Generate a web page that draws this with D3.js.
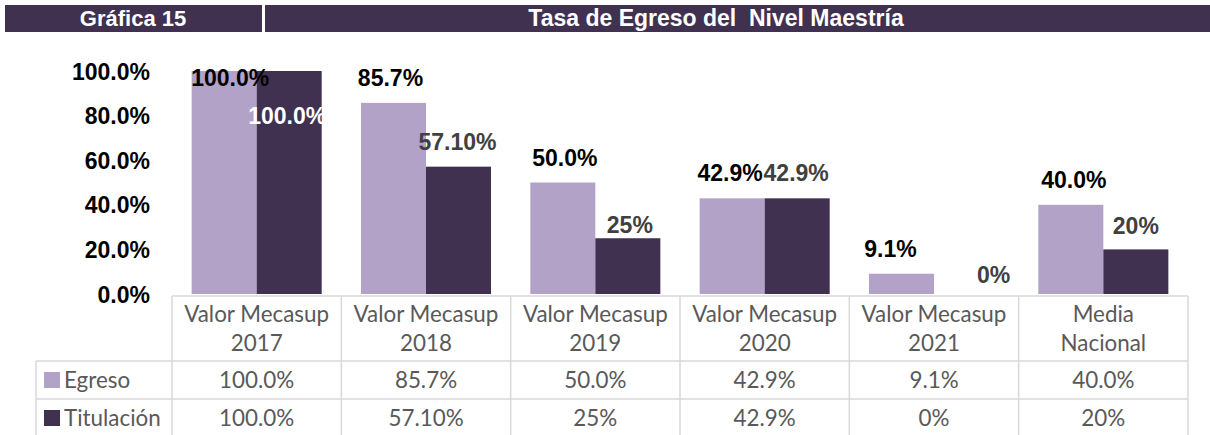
<!DOCTYPE html>
<html>
<head>
<meta charset="utf-8">
<script src="https://cdn.jsdelivr.net/npm/d3@7"></script>
<style>
  html, body { margin: 0; padding: 0; background: #fff; }
  svg { display: block; }
</style>
</head>
<body>
<svg id="chart" width="1210" height="435"></svg>
<script>
// ---- data ----
const categories = ["Valor Mecasup 2017", "Valor Mecasup 2018", "Valor Mecasup 2019", "Valor Mecasup 2020", "Valor Mecasup 2021", "Media Nacional"];
const categoryLines = [["Valor Mecasup", "2017"], ["Valor Mecasup", "2018"], ["Valor Mecasup", "2019"], ["Valor Mecasup", "2020"], ["Valor Mecasup", "2021"], ["Media", "Nacional"]];
const seriesNames = ["Egreso", "Titulación"];
const egreso = [100, 85.7, 50, 42.9, 9.1, 40];
const titulacion = [100, 57.1, 25, 42.9, 0, 20];
const egresoLabels = ["100.0%", "85.7%", "50.0%", "42.9%", "9.1%", "40.0%"];
const titulacionLabels = ["100.0%", "57.10%", "25%", "42.9%", "0%", "20%"];
const yTicks = [0, 20, 40, 60, 80, 100];
const yTickLabels = ["0.0%", "20.0%", "40.0%", "60.0%", "80.0%", "100.0%"];
const headerLeft = "Gráfica 15";
const headerTitle = "Tasa de Egreso del\u00A0\u00A0Nivel Maestría";

// ---- styling / layout (not data) ----
const colors = { "Egreso": "#b3a2c7", "Titulación": "#403151" };
const labelColors = { "Egreso": "#000000", "Titulación": "#404040" };
// manual label nudges (dx, dy) as placed in the original
const labelNudge = {
  "Egreso": [[6, 32], [-3, 0], [2, 0], [-2, 0], [-11, 0], [3, 0]],
  "Titulación": [[-2, 70], [-1, 0], [2, 12], [-1, 0], [27, 6], [0, 2]]
};
const labelWhite = { "Titulación": [true, false, false, false, false, false], "Egreso": [false, false, false, false, false, false] };

const svg = d3.select("#chart");
const boldFont = "'Liberation Sans', Arial, sans-serif";
const tableFont = "Lato, 'Open Sans', sans-serif";
const tableSize = 22.4;

// header
svg.append("rect").attr("x", 5).attr("y", 5).attr("width", 257).attr("height", 27).attr("fill", "#403151");
svg.append("rect").attr("x", 265).attr("y", 5).attr("width", 945).attr("height", 27).attr("fill", "#403151");
svg.append("text").attr("x", 133).attr("y", 26).attr("text-anchor", "middle")
  .attr("font-family", boldFont).attr("font-weight", "bold").attr("font-size", 22).attr("fill", "#fff").text(headerLeft);
svg.append("text").attr("x", 716).attr("y", 26).attr("text-anchor", "middle")
  .attr("font-family", boldFont).attr("font-weight", "bold").attr("font-size", 23).attr("fill", "#fff").text(headerTitle);

// scales
const x0 = d3.scaleBand().domain(categories).range([172, 1188]).padding(0);
const bw = x0.bandwidth();
const pad = bw * 0.116;
const x1 = d3.scaleBand().domain(seriesNames).range([pad, bw - pad]).padding(0);
const y = d3.scaleLinear().domain([0, 100]).range([294, 71]);

// y axis labels
const yAxis = d3.axisLeft(y).tickValues(yTicks).tickFormat((d, i) => yTickLabels[i]).tickSize(0).tickPadding(0);
const yg = svg.append("g").attr("transform", "translate(150,0)").call(yAxis);
yg.select(".domain").remove();
yg.selectAll("text").attr("font-family", boldFont).attr("font-weight", "bold").attr("font-size", 23).attr("fill", "#000").attr("dy", "0.35em");

// bars
const seriesData = { "Egreso": egreso, "Titulación": titulacion };
const seriesLabels = { "Egreso": egresoLabels, "Titulación": titulacionLabels };
const groups = svg.append("g").selectAll("g").data(categories).join("g")
  .attr("transform", d => `translate(${x0(d)},0)`);
seriesNames.forEach(s => {
  groups.append("rect")
    .attr("x", x1(s))
    .attr("width", x1.bandwidth())
    .attr("y", (d, i) => y(seriesData[s][i]))
    .attr("height", (d, i) => y(0) - y(seriesData[s][i]))
    .attr("fill", colors[s]);
});
seriesNames.forEach(s => {
  groups.append("text")
    .attr("x", (d, i) => x1(s) + x1.bandwidth() / 2 + labelNudge[s][i][0])
    .attr("y", (d, i) => y(seriesData[s][i]) - 25 + labelNudge[s][i][1])
    .attr("dy", "0.35em")
    .attr("text-anchor", "middle")
    .attr("font-family", boldFont).attr("font-weight", "bold").attr("font-size", 23)
    .attr("fill", (d, i) => labelWhite[s][i] ? "#ffffff" : labelColors[s])
    .text((d, i) => seriesLabels[s][i]);
});

// data table
const tbl = svg.append("g");
const lineColor = "#d9d9d9";
const tTop = 296, hdrBottom = 361, row1 = 399, row2 = 437, tLeft = 36;
const line = (xa, ya, xb, yb) => tbl.append("line").attr("x1", xa).attr("y1", ya).attr("x2", xb).attr("y2", yb)
  .attr("stroke", lineColor).attr("stroke-width", 1.5);
line(172, tTop, 1188, tTop);
line(tLeft, hdrBottom, 1188, hdrBottom);
line(tLeft, row1, 1188, row1);
line(tLeft, row2, 1188, row2);
line(tLeft, hdrBottom, tLeft, row2);
categories.forEach(c => line(x0(c), tTop, x0(c), row2));
line(1188, tTop, 1188, row2);

categories.forEach((c, i) => {
  const cx = x0(c) + bw / 2;
  categoryLines[i].forEach((t, k) => {
    tbl.append("text").attr("x", cx).attr("y", 314 + k * 29).attr("dy", "0.35em").attr("text-anchor", "middle")
      .attr("font-family", tableFont).attr("font-size", tableSize).attr("fill", "#595959").text(t);
  });
  tbl.append("text").attr("x", cx).attr("y", 380).attr("dy", "0.35em").attr("text-anchor", "middle")
    .attr("font-family", tableFont).attr("font-size", tableSize).attr("fill", "#595959").text(egresoLabels[i]);
  tbl.append("text").attr("x", cx).attr("y", 418).attr("dy", "0.35em").attr("text-anchor", "middle")
    .attr("font-family", tableFont).attr("font-size", tableSize).attr("fill", "#595959").text(titulacionLabels[i]);
});
seriesNames.forEach((s, k) => {
  const cy = k === 0 ? 380 : 418;
  tbl.append("rect").attr("x", 44).attr("y", cy - 8).attr("width", 16).attr("height", 16).attr("fill", colors[s]);
  tbl.append("text").attr("x", 64).attr("y", cy).attr("dy", "0.35em")
    .attr("font-family", tableFont).attr("font-size", tableSize).attr("fill", "#595959").text(s);
});
</script>
</body>
</html>
